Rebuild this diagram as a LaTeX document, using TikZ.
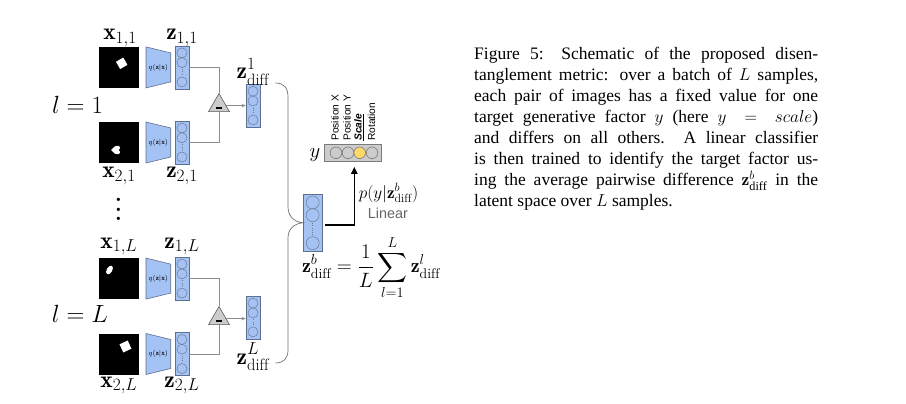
\documentclass[tikz,border=0pt]{standalone}
\usepackage{amsmath}
\usepackage{fontspec}
\newfontfamily\capfont{Liberation Serif}
\newfontfamily\helv{Liberation Sans}
\usetikzlibrary{arrows.meta,shapes.geometric,calc}
\definecolor{zblue}{HTML}{A4C2F4}
\definecolor{zedge}{HTML}{5F6F8F}
\definecolor{cgray}{HTML}{6E7A8E}
\definecolor{lgray}{HTML}{8C8C8C}
\definecolor{tgray}{HTML}{CCCCCC}
\definecolor{tedge}{HTML}{5A5A5A}
\definecolor{bgray}{HTML}{707070}
\definecolor{ygray}{HTML}{CCCCCC}
\definecolor{ygedge}{HTML}{7A7A7A}
\definecolor{yyellow}{HTML}{FFD966}
\definecolor{lintext}{HTML}{666666}
\newcommand\latcol[6]{%
  \node[latbox, minimum width=#4pt, minimum height=#5pt] (#1) at (#2,#3) {};
  \pgfmathsetmacro\lcTop{#3-#5/2+#6+2}
  \pgfmathsetmacro\lcSec{\lcTop+2*#6-0.3}
  \pgfmathsetmacro\lcBot{#3+#5/2-#6-2}
  \pgfmathsetmacro\lcDa{\lcSec+#6+1.6}
  \pgfmathsetmacro\lcDb{\lcBot-#6-1.6}
  \draw[latcirc] (#2,\lcTop) circle[radius=#6pt];
  \draw[latcirc] (#2,\lcSec) circle[radius=#6pt];
  \draw[latcirc] (#2,\lcBot) circle[radius=#6pt];
  \draw[latdots] (#2,\lcDa) -- (#2,\lcDb);
}
\newcommand\encoder[2]{%
  \draw[enc] (146,#2-20.5) -- (170.7,#2-14.5) -- (170.7,#2+14.5) -- (146,#2+20.5) -- cycle;
  \node[qlab] (#1) at (158.4,#2) {$q(\mathbf{z}|\mathbf{x})$};
}
\newcommand\capline[3]{%
  \node[capl] (#1) at (474,#2) {\makebox[344pt][s]{#3}};
}
\begin{document}
\begin{tikzpicture}[x=1pt,y=-1pt,
  latbox/.style={draw=zedge, fill=zblue, line width=0.6pt, inner sep=0pt},
  latcirc/.style={draw=cgray, line width=0.5pt},
  latdots/.style={draw=cgray, line width=0.8pt, dash pattern=on 0.8pt off 1.4pt},
  enc/.style={draw=zedge, fill=zblue, line width=0.6pt},
  qlab/.style={font=\fontsize{7}{8}\selectfont, inner sep=0pt},
  img/.style={fill=black, draw=none, minimum width=40pt, minimum height=41pt, inner sep=0pt},
  lab/.style={font=\fontsize{23.5}{28}\selectfont, inner sep=0pt, anchor=base},
  conn/.style={draw=lgray, line width=0.8pt},
  garrow/.style={conn, -{Stealth[length=4pt,width=3.5pt]}},
  tri/.style={regular polygon, regular polygon sides=3, draw=tedge, fill=tgray, minimum size=24.2pt, inner sep=0pt, line width=0.6pt},
  minus/.style={draw=black, line width=1.7pt},
  brace/.style={draw=bgray, line width=0.7pt},
  mainarrow/.style={draw=black, line width=1.6pt, -{Triangle[length=7pt,width=6.5pt]}},
  ybox/.style={draw=ygedge, fill=ygray, line width=0.6pt, inner sep=0pt},
  ycirc/.style={draw=ygedge, line width=0.6pt},
  fac/.style={font=\helv\fontsize{10.2}{12}\selectfont, rotate=90, anchor=west, inner sep=0pt},
  capl/.style={font=\capfont\fontsize{17.5}{21}\selectfont, anchor=base west, inner sep=0pt},
]
\useasboundingbox[fill=white] (0,0) rectangle (906,404);

% ---- images ----
\node[img] (imgA) at (119.3,67.4) {};
\node[img] (imgB) at (119.3,142.5) {};
\node[img] (imgC) at (119.3,278.6) {};
\node[img] (imgD) at (119.3,354) {};
\fill[white, rotate around={30:(121.7,63.3)}] (117.5,59.1) rectangle (125.9,67.5);
\fill[white, rotate around={-90:(115.7,150)}] (115.7,154.5) .. controls (112,151.5) and (110.5,149) .. (111.5,146.8) .. controls (112.5,144.8) and (115,145.2) .. (115.7,147) .. controls (116.4,145.2) and (118.9,144.8) .. (119.9,146.8) .. controls (120.9,149) and (119.4,151.5) .. (115.7,154.5) -- cycle;
\fill[white, rotate around={-30:(109.5,270)}] (109.5,270) ellipse[x radius=2.8pt, y radius=4.8pt];
\fill[white, rotate around={25:(125.5,346.5)}] (121,342) rectangle (130,351);

% ---- labels ----
\node[lab] (lx11) at (120,39.3) {$\mathbf{x}_{1,1}$};
\node[lab] (lz11) at (182,39.3) {$\mathbf{z}_{1,1}$};
\node[lab] (lx21) at (119,177.5) {$\mathbf{x}_{2,1}$};
\node[lab] (lz21) at (182,177.5) {$\mathbf{z}_{2,1}$};
\node[lab] (lx1L) at (119,248) {$\mathbf{x}_{1,L}$};
\node[lab] (lz1L) at (182,248) {$\mathbf{z}_{1,L}$};
\node[lab] (lx2L) at (119,387) {$\mathbf{x}_{2,L}$};
\node[lab] (lz2L) at (182,387) {$\mathbf{z}_{2,L}$};
\node[lab] (l1) at (77.5,113.3) {$l = 1$};
\node[lab] (lL) at (80,322.7) {$l = L$};
\node[font=\fontsize{23}{28}\selectfont\bfseries, inner sep=0pt] (vd) at (118.5,209.5) {\vbox{\baselineskip=9.6pt\hbox{.}\hbox{.}\hbox{.}}};

% ---- encoders ----
\encoder{qA}{67.4}
\encoder{qB}{142.5}
\encoder{qC}{278.6}
\encoder{qD}{354}

% ---- latent columns ----
\latcol{zA}{182}{67.4}{14}{43}{5}
\latcol{zB}{182}{142.5}{14}{43}{5}
\latcol{zC}{182}{278.6}{14}{43}{5}
\latcol{zD}{182}{354}{14}{43}{5}

% ---- difference ----
\node[tri] (tri1) at (219,105.6) {};
\node[tri] (triL) at (219,318.6) {};
\draw[minus] ([xshift=-3pt,yshift=-2.7pt]tri1.center) -- ([xshift=3pt,yshift=-2.7pt]tri1.center);
\draw[minus] ([xshift=-3pt,yshift=-2.7pt]triL.center) -- ([xshift=3pt,yshift=-2.7pt]triL.center);
\draw[conn] (zA.east) -| (tri1.north);
\draw[conn] (zB.east) -| (tri1.south);
\draw[conn] (zC.east) -| (triL.north);
\draw[conn] (zD.east) -| (triL.south);

\latcol{zd1}{253}{105.6}{14.3}{42.7}{5}
\latcol{zdL}{253}{317.5}{14.3}{42.7}{5}
\draw[garrow] (tri1.east) -- (tri1.east -| zd1.west);
\draw[garrow] (triL.east) -- (triL.east -| zdL.west);
\node[lab] (lzd1) at (253,79) {$\mathbf{z}^{1}_{\mathrm{diff}}$};
\node[lab] (lzdL) at (253,364) {$\mathbf{z}^{L}_{\mathrm{diff}}$};

% ---- averaged column & brace ----
\latcol{zb}{312.7}{222.8}{18.7}{57.7}{6.5}
\coordinate (bt) at (275.5,83);
\coordinate (bb) at (275.5,363);
\draw[brace] (bt) .. controls (284,83) and (288,88) .. (288,97) -- (288,207)
  .. controls (288,216) and (294,222) .. (zb.west)
  .. controls (294,223.5) and (288,229) .. (288,238) -- (288,350)
  .. controls (288,358) and (284,363) .. (bb);

% ---- output vector ----
\node[ybox, minimum width=56.7pt, minimum height=17.7pt] (yv) at (352.7,152.8) {};
\draw[ycirc] (336,152.8) circle[radius=5.8pt];
\draw[ycirc] (348,152.8) circle[radius=5.8pt];
\draw[ycirc, fill=yyellow] (359.7,152.8) circle[radius=5.8pt];
\draw[ycirc] (372,152.8) circle[radius=5.8pt];
\node[fac] (fx) at (335,141) {Position X};
\node[fac] (fy) at (347,141) {Position Y};
\node[fac] (fs) at (359,141) {\underline{\textbf{\textit{Scale}}}};
\node[fac] (fr) at (371.5,141) {Rotation};
\node[lab, font=\fontsize{21}{25}\selectfont] (ylab) at (315,157.5) {$y$};

\draw[mainarrow, shorten <=3pt, shorten >=5pt] ([yshift=-2.2pt]zb.east) -| ([xshift=1.6pt]yv.south);
\node[font=\fontsize{17}{20}\selectfont, inner sep=0pt, anchor=base] (pl) at (388.5,198) {$p(y|\mathbf{z}^b_{\mathrm{diff}})$};
\node[font=\helv\fontsize{14.4}{17}\selectfont, text=lintext, inner sep=0pt, anchor=base] (lin) at (388,218) {Linear};
\node[font=\fontsize{20}{24}\selectfont, inner sep=0pt] (eq) at (371,267.5) {$\displaystyle \mathbf{z}^b_{\mathrm{diff}} = \frac{1}{L}\sum_{l=1}^{L}\mathbf{z}^l_{\mathrm{diff}}$};

% ---- caption ----
\capline{cap1}{59.3}{Figure 5: Schematic of the proposed disen-}
\capline{cap2}{80.4}{tanglement metric: over a batch of $L$ samples,}
\capline{cap3}{101.4}{each pair of images has a fixed value for one}
\capline{cap4}{122.5}{target generative factor $y$ (here $y\,=\,scale$)}
\capline{cap5}{143.5}{and differs on all others.\ \ A linear classifier}
\capline{cap6}{164.6}{is then trained to identify the target factor us-}
\capline{cap7}{185.7}{ing the average pairwise difference $\mathbf{z}^b_{\text{diff}}$ in the}
\node[capl] (cap8) at (474,206.7) {latent space over $L$ samples.};
\end{tikzpicture}
\end{document}
